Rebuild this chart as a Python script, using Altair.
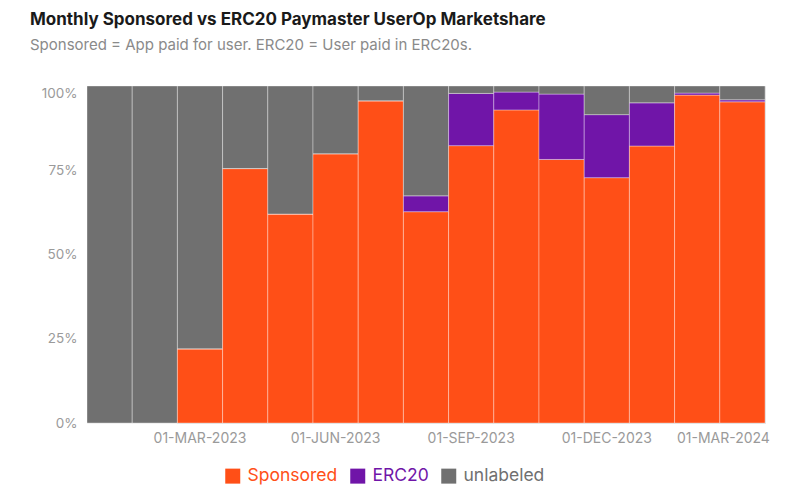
import altair as alt
import pandas as pd

months = ["01-JAN-2023", "01-FEB-2023", "01-MAR-2023", "01-APR-2023", "01-MAY-2023",
          "01-JUN-2023", "01-JUL-2023", "01-AUG-2023", "01-SEP-2023", "01-OCT-2023",
          "01-NOV-2023", "01-DEC-2023", "01-JAN-2024", "01-FEB-2024", "01-MAR-2024"]
sponsored = [0, 0, 22.0, 75.5, 62.0, 79.9, 95.6, 62.7, 82.3, 92.9, 78.2, 72.8, 82.2, 97.3, 95.3]
erc20 = [0, 0, 0, 0, 0, 0, 0, 4.7, 15.5, 5.3, 19.4, 18.7, 12.8, 0.6, 0.6]
unlabeled = [100, 100, 78.0, 24.5, 38.0, 20.1, 4.4, 32.6, 2.2, 1.8, 2.4, 8.5, 5.0, 2.1, 4.1]
series = ["Sponsored", "ERC20", "unlabeled"]
colors = ["#FF4F17", "#7015A8", "#707070"]
shown_labels = ["01-MAR-2023", "01-JUN-2023", "01-SEP-2023", "01-DEC-2023", "01-MAR-2024"]

rows = []
for i, m in enumerate(months):
    for k, (name, vals) in enumerate(zip(series, [sponsored, erc20, unlabeled])):
        rows.append({"month": m, "series": name, "share": vals[i], "order": k})
df = pd.DataFrame(rows)

label_test = " || ".join(f"datum.value == '{l}'" for l in shown_labels)

chart = alt.Chart(df).mark_bar(
    stroke="white", strokeOpacity=0.35, strokeWidth=1
).encode(
    x=alt.X("month:N", sort=months, title=None,
            scale=alt.Scale(paddingInner=0, paddingOuter=0),
            axis=alt.Axis(labelAngle=0, ticks=False, domain=False, grid=False,
                          labelExpr=f"({label_test}) ? datum.label : ''",
                          labelOffset={"condition": {"test": "datum.value == '01-MAR-2024'", "value": -19}, "value": 0},
                          labelFont="Inter", labelFontSize=14, labelColor="#9a9a9a",
                          labelPadding=8, labelOverlap=False, labelBound=False, labelFlush=False)),
    y=alt.Y("share:Q", stack="zero", title=None,
            scale=alt.Scale(domain=[0, 100], nice=False),
            axis=alt.Axis(values=[0, 25, 50, 75, 100], labelExpr="datum.value + '%'",
                          ticks=False, domain=False, grid=False,
                          labelBaseline={"condition": {"test": "datum.value == 100", "value": "top"}, "value": "middle"},
                          labelFont="Inter", labelFontSize=13.5, labelColor="#9a9a9a",
                          labelPadding=10)),
    color=alt.Color("series:N", sort=series, title=None,
                    scale=alt.Scale(domain=series, range=colors),
                    legend=alt.Legend(orient="none", direction="horizontal",
                                      legendX=137, legendY=381,
                                      symbolType="square", symbolSize=225, symbolStrokeWidth=0,
                                      labelFont="Inter", labelFontSize=17.5, labelOffset=6,
                                      columnPadding=11, padding=0,
                                      labelColor={"expr": "datum.value == 'Sponsored' ? '#FF4F17' : datum.value == 'ERC20' ? '#7015A8' : '#707070'"})),
    order=alt.Order("order:Q", sort="ascending"),
    tooltip=["month", "series", "share"],
).properties(
    width=678, height=337,
    padding={"left": 79, "top": 78, "right": 20, "bottom": 70},
    autosize=alt.AutoSizeParams(type="none"),
    title=alt.TitleParams(
        "Monthly Sponsored vs ERC20 Paymaster UserOp Marketshare",
        subtitle="Sponsored = App paid for user. ERC20 = User paid in ERC20s.",
        anchor="start", frame="group", dx=-57, offset=32,
        font="Inter", fontSize=17, fontWeight="bold", color="#1a1a1a",
        subtitleFont="Inter", subtitleFontSize=15, subtitleColor="#8a8a8a", subtitlePadding=9,
    ),
).configure_view(stroke=None).configure(background="white")

chart.save("out.html", embed_options={"renderer": "svg", "actions": False})
